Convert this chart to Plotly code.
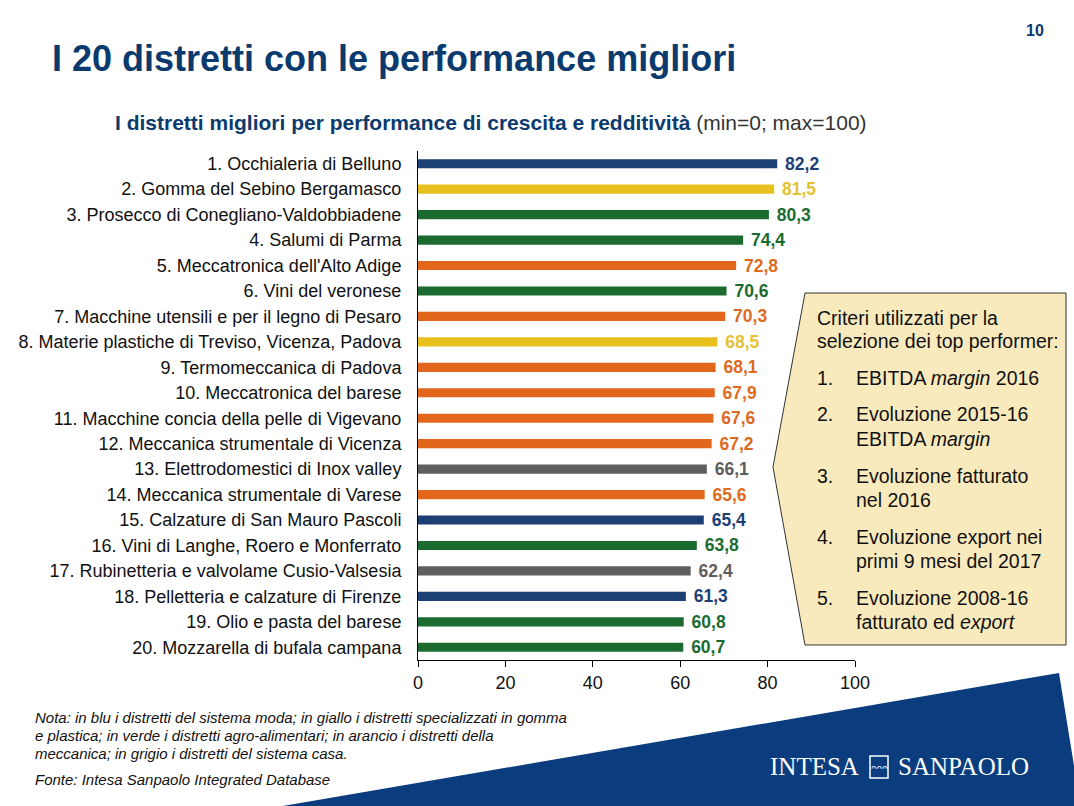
import plotly.graph_objects as go

districts = [
    "1. Occhialeria di Belluno",
    "2. Gomma del Sebino Bergamasco",
    "3. Prosecco di Conegliano-Valdobbiadene",
    "4. Salumi di Parma",
    "5. Meccatronica dell'Alto Adige",
    "6. Vini del veronese",
    "7. Macchine utensili e per il legno di Pesaro",
    "8. Materie plastiche di Treviso, Vicenza, Padova",
    "9. Termomeccanica di Padova",
    "10. Meccatronica del barese",
    "11. Macchine concia della pelle di Vigevano",
    "12. Meccanica strumentale di Vicenza",
    "13. Elettrodomestici di Inox valley",
    "14. Meccanica strumentale di Varese",
    "15. Calzature di San Mauro Pascoli",
    "16. Vini di Langhe, Roero e Monferrato",
    "17. Rubinetteria e valvolame Cusio-Valsesia",
    "18. Pelletteria e calzature di Firenze",
    "19. Olio e pasta del barese",
    "20. Mozzarella di bufala campana",
]
scores = [82.2, 81.5, 80.3, 74.4, 72.8, 70.6, 70.3, 68.5, 68.1, 67.9,
          67.6, 67.2, 66.1, 65.6, 65.4, 63.8, 62.4, 61.3, 60.8, 60.7]
sectors = ["moda", "gomma", "agro", "agro", "mecc", "agro", "mecc", "gomma", "mecc", "mecc",
           "mecc", "mecc", "casa", "mecc", "moda", "agro", "casa", "moda", "agro", "agro"]
x_ticks = [0, 20, 40, 60, 80, 100]

sector_colors = {"moda": "#1C3F74", "gomma": "#E9C11E", "agro": "#1B6B30",
                 "mecc": "#E2661B", "casa": "#5F5D5D"}
label_colors = {"moda": "#1C3F74", "gomma": "#E4C232", "agro": "#1B6B30",
                "mecc": "#DD6A1E", "casa": "#5F5D5D"}

bar_colors = [sector_colors[s] for s in sectors]
txt_colors = [label_colors[s] for s in sectors]
labels = [f"{v:.1f}".replace(".", ",") for v in scores]

W, H = 1074, 806
L, R, T, B = 418, 219, 151, 146
PW, PH = W - L - R, H - T - B

def px(x):
    return (x - L) / PW

def py(y):
    return (H - B - y) / PH

FONT = "Liberation Sans, Arial"

fig = go.Figure()
fig.add_trace(go.Bar(
    y=districts, x=scores, orientation="h",
    marker=dict(color=bar_colors, line=dict(width=0)),
    width=0.36,
    text=labels, texttemplate=" <b>%{text}</b>", textposition="outside",
    constraintext="none",
    textfont=dict(color=txt_colors, size=17.5, family=FONT),
    cliponaxis=False, hoverinfo="skip",
))

def path(points):
    return "M " + " L ".join(f"{px(a):.5f},{py(b):.5f}" for a, b in points) + " Z"

shapes = []
shapes.append(dict(type="path", xref="paper", yref="paper", layer="below",
                   path=path([(277, 807), (1059, 673), (1075, 772), (1075, 807)]),
                   fillcolor="#0B3D7E", line=dict(width=0)))
shapes.append(dict(type="path", xref="paper", yref="paper",
                   path=path([(805, 293), (1066, 293), (1066, 645), (805, 645), (773, 467)]),
                   fillcolor="#F8EABD", line=dict(color="#333333", width=1)))
shapes.append(dict(type="rect", xref="paper", yref="paper",
                   x0=px(870), x1=px(888), y0=py(778), y1=py(756),
                   fillcolor="rgba(0,0,0,0)", line=dict(color="white", width=1.5)))

ann = []
ann.append(dict(text="<b>I 20 distretti con le performance migliori</b>", x=px(50), y=py(58),
                xanchor="left", yanchor="middle", font=dict(size=36, color="#0B3A6E", family=FONT)))
ann.append(dict(text="<b>10</b>", x=px(1046), y=py(30), xanchor="right", yanchor="middle",
                font=dict(size=16, color="#0B3A6E", family=FONT)))
ann.append(dict(text="<b>I distretti migliori per performance di crescita e redditività</b>"
                     "<span style='color:#333333'> (min=0; max=100)</span>",
                x=px(113), y=py(122), xanchor="left", yanchor="middle",
                font=dict(size=21, color="#0B3A6E", family=FONT)))

box_lines = [
    (None, "Criteri utilizzati per la", 318),
    (None, "selezione dei top performer:", 341),
    ("1.", "EBITDA <i>margin</i> 2016", 378),
    ("2.", "Evoluzione 2015-16", 414),
    (None, "EBITDA <i>margin</i>", 439),
    ("3.", "Evoluzione fatturato", 476),
    (None, "nel 2016", 500),
    ("4.", "Evoluzione export nei", 537),
    (None, "primi 9 mesi del 2017", 561),
    ("5.", "Evoluzione 2008-16", 598),
    (None, "fatturato ed <i>export</i>", 622),
]
for num, txt, yy in box_lines:
    xx = 815 if num is None and yy < 350 else 854
    ann.append(dict(text=txt, x=px(xx), y=py(yy), xanchor="left", yanchor="middle",
                    font=dict(size=19.5, color="#111111", family=FONT)))
    if num:
        ann.append(dict(text=num, x=px(815), y=py(yy), xanchor="left", yanchor="middle",
                        font=dict(size=19.5, color="#111111", family=FONT)))

notes = [
    ("<i>Nota: in blu i distretti del sistema moda; in giallo i distretti specializzati in gomma</i>", 717),
    ("<i>e plastica; in verde i distretti agro-alimentari; in arancio i distretti della</i>", 735),
    ("<i>meccanica; in grigio i distretti del sistema casa.</i>", 753),
    ("<i>Fonte: Intesa Sanpaolo Integrated Database</i>", 779),
]
for txt, yy in notes:
    ann.append(dict(text=txt, x=px(33), y=py(yy), xanchor="left", yanchor="middle",
                    font=dict(size=15, color="#111111", family=FONT)))

ann.append(dict(text="INTESA", x=px(861), y=py(767), xanchor="right", yanchor="middle",
                font=dict(size=25, color="white", family="Liberation Serif, Times New Roman")))
ann.append(dict(text="SANPAOLO", x=px(896), y=py(767), xanchor="left", yanchor="middle",
                font=dict(size=25, color="white", family="Liberation Serif, Times New Roman")))
ann.append(dict(text="ᴖᴖᴖ", x=px(879), y=py(768), xanchor="center", yanchor="middle",
                font=dict(size=9, color="white", family="DejaVu Sans")))

for a in ann:
    a.update(xref="paper", yref="paper", showarrow=False)

fig.update_layout(
    width=W, height=H,
    margin=dict(l=L, r=R, t=T, b=B),
    paper_bgcolor="white", plot_bgcolor="white",
    showlegend=False,
    font=dict(family=FONT, color="#111111"),
    shapes=shapes, annotations=ann,
    xaxis=dict(range=[0, 100], tickvals=x_ticks, ticks="outside", ticklen=6, tickcolor="black",
               showline=True, linecolor="black", linewidth=1, showgrid=False, zeroline=False,
               tickfont=dict(size=18, color="#111111", family=FONT), fixedrange=True),
    yaxis=dict(autorange="reversed", showline=True, linecolor="black", linewidth=1,
               ticks="", showgrid=False, ticklabelstandoff=12,
               tickfont=dict(size=18, color="#111111", family=FONT), fixedrange=True),
)

fig.write_html("out.html", include_plotlyjs=True, config={"displayModeBar": False},
               post_script="document.body.style.margin='0px';document.body.style.overflow='hidden';")
